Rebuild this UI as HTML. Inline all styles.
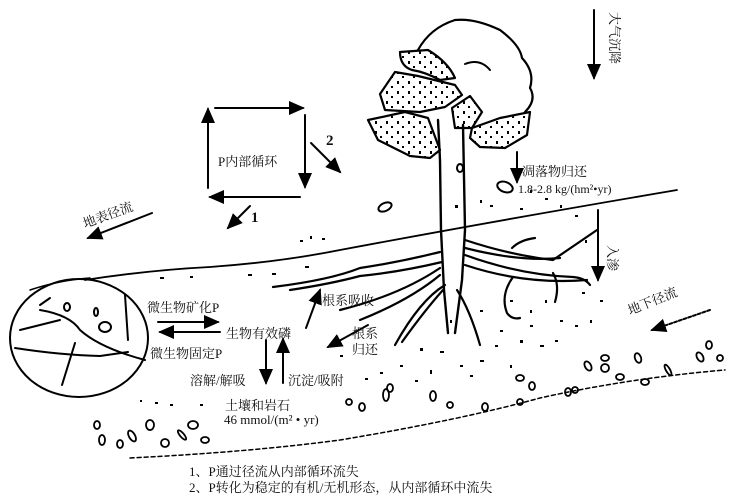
<!DOCTYPE html>
<html><head><meta charset="utf-8"><style>
html,body{margin:0;padding:0;background:#fff;}
svg{display:block}
text{font-family:"Liberation Serif","Noto Serif CJK SC","Noto Sans CJK SC",serif;fill:#111;}
</style></head><body>
<svg width="735" height="500" viewBox="0 0 735 500" xmlns="http://www.w3.org/2000/svg">
<defs>
<marker id="ahb" markerWidth="16" markerHeight="16" refX="14" refY="8" orient="auto" markerUnits="userSpaceOnUse" viewBox="0 0 16 16"><path d="M0,1 L16,8 L0,15 z" fill="#000"/></marker>
<pattern id="dots" width="11" height="10" patternUnits="userSpaceOnUse"><rect x="1" y="1" width="2" height="3" fill="#000"/><rect x="6" y="6" width="2" height="2" fill="#000"/></pattern>
</defs>
<g fill="none" stroke="#000" stroke-width="2" stroke-linecap="round" stroke-linejoin="round">
<line x1="208" y1="188" x2="208" y2="109" marker-end="url(#ahb)"/>
<line x1="215" y1="108" x2="303" y2="108" marker-end="url(#ahb)"/>
<line x1="305" y1="115" x2="305" y2="187" marker-end="url(#ahb)"/>
<line x1="300" y1="197" x2="210" y2="197" marker-end="url(#ahb)"/>
<line x1="311" y1="143" x2="340" y2="172" marker-end="url(#ahb)"/>
<line x1="250" y1="206" x2="228" y2="228" marker-end="url(#ahb)"/>
<line x1="152" y1="213" x2="88" y2="238" marker-end="url(#ahb)"/>
<line x1="594" y1="10" x2="594" y2="78" marker-end="url(#ahb)"/>
<line x1="517" y1="152" x2="517" y2="182" marker-end="url(#ahb)"/>
<line x1="598" y1="210" x2="598" y2="280" marker-end="url(#ahb)"/>
<line x1="710" y1="310" x2="652" y2="330" stroke-dasharray="3,2" marker-end="url(#ahb)"/>
<path d="M85 280 Q150 270 210 267 Q280 262 340 250 Q500 220 677 190" stroke-width="1.8"/>
<path d="M30 290 Q60 280 90 278" stroke-width="1.5"/>
<ellipse cx="79" cy="338" rx="69" ry="59"/>
<path d="M40 310 Q70 315 80 330 Q100 348 145 360" />
<path d="M15 348 Q60 355 100 356 L128 352"/>
<path d="M75 343 L62 385"/><path d="M20 330 L60 320"/>
<path d="M125 295 L128 340"/><path d="M50 298 L40 305"/>
<ellipse cx="67" cy="307" rx="3" ry="4"/><ellipse cx="96" cy="312" rx="2" ry="4"/><ellipse cx="105" cy="327" rx="6" ry="5"/>
<path d="M418 50 Q430 28 455 20 Q475 18 500 30 Q520 45 522 58 Q535 72 530 88 Q537 100 525 112" stroke-width="2.2"/>
<path d="M465 64 Q480 58 490 70"/>
<g fill="url(#dots)" stroke-width="2.2">
<path d="M400 52 L428 50 Q448 62 455 78 L440 80 Q425 72 412 70 Q400 66 400 52 z"/>
<path d="M395 72 L418 76 L455 85 L462 95 L445 107 L420 112 L385 110 L380 94 Z"/>
<path d="M368 120 L405 112 L428 118 L440 150 L430 158 L410 156 L378 140 Z"/>
<path d="M452 108 L470 96 L482 112 L472 128 L455 128 Z"/>
<path d="M472 128 L500 118 L530 112 L527 135 L505 148 L480 147 L470 138 Z"/>
</g>
<g stroke-width="2.4">
<path d="M438 120 L440 160 L441 230 L444 290 L448 333"/>
<path d="M463 125 L465 230 L462 280 L455 333"/>
</g>
<ellipse cx="460" cy="168" rx="3" ry="4"/>
<g stroke-width="2.2">
<path d="M440 252 Q400 262 360 268 Q330 280 273 287"/>
<path d="M442 262 Q400 272 360 276 Q330 284 290 290"/>
<path d="M440 268 Q400 295 340 310"/>
<path d="M440 275 Q410 300 360 320"/>
<path d="M445 285 Q420 300 395 345"/>
<path d="M443 290 Q425 310 402 342"/>
<path d="M457 290 Q470 310 480 345"/>
<path d="M465 255 Q520 275 573 277 Q585 278 590 285"/>
<path d="M465 265 Q525 285 587 280"/>
<path d="M465 240 Q510 255 553 260 Q575 245 597 230"/>
<path d="M465 248 Q520 262 560 258"/>
<path d="M513 277 Q500 295 507 313 Q512 320 520 318"/>
<path d="M553 273 Q560 285 555 302"/>
<path d="M512 248 Q520 240 535 238"/>
</g>
<ellipse cx="505" cy="187" rx="8" ry="5" transform="rotate(20 505 187)"/>
<ellipse cx="385" cy="207" rx="7" ry="4" transform="rotate(-25 385 207)"/>
<line x1="158" y1="322" x2="218" y2="322" marker-end="url(#ahb)"/>
<line x1="220" y1="332" x2="160" y2="332" marker-end="url(#ahb)"/>
<line x1="266" y1="340" x2="266" y2="383" marker-end="url(#ahb)"/>
<line x1="283" y1="383" x2="283" y2="339" marker-end="url(#ahb)"/>
<line x1="306" y1="328" x2="320" y2="290" marker-end="url(#ahb)"/>
<line x1="368" y1="325" x2="328" y2="347" marker-end="url(#ahb)"/>
<path d="M130 458 Q250 452 340 440 Q460 420 540 398 Q630 378 725 370" stroke-width="1.5" stroke-dasharray="4,3"/>
</g>
<g fill="none" stroke="#000" stroke-width="1.8">
<ellipse cx="97" cy="425" rx="3" ry="4"/><ellipse cx="102" cy="440" rx="3" ry="5"/><ellipse cx="120" cy="444" rx="3" ry="4"/>
<ellipse cx="132" cy="436" rx="3" ry="6" transform="rotate(-30 132 436)"/><ellipse cx="150" cy="425" rx="4" ry="5"/><ellipse cx="165" cy="443" rx="4" ry="4"/>
<ellipse cx="182" cy="435" rx="2" ry="6" transform="rotate(-40 182 435)"/><ellipse cx="193" cy="425" rx="5" ry="4"/><ellipse cx="205" cy="440" rx="4" ry="3"/>
<ellipse cx="349" cy="402" rx="3" ry="3"/><ellipse cx="362" cy="407" rx="3" ry="4"/><ellipse cx="386" cy="395" rx="3" ry="6"/><ellipse cx="390" cy="388" rx="3" ry="4"/>
<ellipse cx="433" cy="396" rx="3" ry="5"/><ellipse cx="450" cy="405" rx="3" ry="3"/><ellipse cx="485" cy="407" rx="3" ry="4"/><ellipse cx="520" cy="378" rx="4" ry="3"/>
<ellipse cx="532" cy="386" rx="3" ry="4"/><ellipse cx="568" cy="392" rx="3" ry="4"/><ellipse cx="588" cy="366" rx="3" ry="5" transform="rotate(-30 588 366)"/>
<ellipse cx="605" cy="358" rx="4" ry="3"/><ellipse cx="605" cy="368" rx="4" ry="4"/><ellipse cx="620" cy="377" rx="4" ry="3"/><ellipse cx="638" cy="358" rx="3" ry="5" transform="rotate(-20 638 358)"/>
<ellipse cx="645" cy="382" rx="4" ry="3"/><ellipse cx="668" cy="370" rx="2" ry="6" transform="rotate(-30 668 370)"/><ellipse cx="700" cy="357" rx="3" ry="5" transform="rotate(-30 700 357)"/>
<ellipse cx="709" cy="345" rx="3" ry="4"/><ellipse cx="720" cy="358" rx="3" ry="3"/><ellipse cx="575" cy="390" rx="3" ry="3"/><ellipse cx="520" cy="402" rx="3" ry="3"/>
</g>
<g fill="#000">
<rect x="160" y="277" width="4" height="2"/><rect x="190" y="276" width="3" height="2"/><rect x="248" y="274" width="4" height="2"/><rect x="272" y="273" width="4" height="2"/><rect x="305" y="266" width="4" height="2"/>
<rect x="155" y="402" width="3" height="2"/><rect x="170" y="404" width="3" height="2"/><rect x="200" y="404" width="3" height="2"/><rect x="140" y="400" width="2" height="2"/>
<rect x="420" y="348" width="3" height="3"/><rect x="440" y="351" width="4" height="2"/><rect x="460" y="365" width="3" height="2"/><rect x="480" y="360" width="4" height="2"/>
<rect x="500" y="330" width="3" height="2"/><rect x="520" y="340" width="3" height="3"/><rect x="540" y="345" width="4" height="2"/><rect x="560" y="320" width="3" height="2"/>
<rect x="575" y="325" width="3" height="2"/><rect x="555" y="340" width="3" height="2"/><rect x="400" y="365" width="3" height="2"/><rect x="380" y="372" width="3" height="2"/>
<rect x="365" y="378" width="3" height="2"/><rect x="430" y="370" width="2" height="4"/><rect x="470" y="375" width="3" height="2"/><rect x="510" y="365" width="2" height="3"/>
<rect x="450" y="320" width="2" height="3"/><rect x="510" y="300" width="3" height="2"/><rect x="530" y="310" width="2" height="3"/><rect x="582" y="292" width="3" height="2"/>
<rect x="300" y="240" width="3" height="2"/><rect x="310" y="236" width="2" height="3"/><rect x="322" y="238" width="3" height="2"/><rect x="530" y="190" width="2" height="3"/><rect x="545" y="198" width="3" height="2"/>
<rect x="480" y="200" width="2" height="3"/><rect x="490" y="205" width="3" height="2"/><rect x="455" y="205" width="3" height="3"/>
<rect x="520" y="208" width="3" height="2"/><rect x="560" y="205" width="2" height="3"/><rect x="575" y="215" width="3" height="2"/><rect x="585" y="240" width="2" height="3"/>
<rect x="480" y="310" width="3" height="2"/><rect x="495" y="345" width="3" height="2"/><rect x="545" y="300" width="2" height="3"/><rect x="530" y="325" width="3" height="2"/>
<rect x="600" y="300" width="3" height="2"/><rect x="590" y="320" width="2" height="3"/><rect x="340" y="355" width="3" height="2"/><rect x="415" y="380" width="3" height="2"/>
</g>
<g font-size="13">
<text x="218" y="166">P内部循环</text>
<text x="326" y="145" font-weight="bold" font-size="15">2</text>
<text x="251" y="222" font-weight="bold" font-size="15">1</text>
<text x="85" y="228" transform="rotate(-20 85 228)">地表径流</text>
<text x="610" y="12" transform="rotate(90 610 12)">大气沉降</text>
<text x="522" y="176">凋落物归还</text>
<text x="518" y="193" font-size="12">1.8-2.8  kg/(hm²•yr)</text>
<text x="608" y="245" transform="rotate(90 608 245)">入渗</text>
<text x="630" y="315" transform="rotate(-22 630 315)">地下径流</text>
<text x="147" y="312">微生物矿化P</text>
<text x="226" y="338">生物有效磷</text>
<text x="150" y="358">微生物固定P</text>
<text x="190" y="385">溶解/解吸</text>
<text x="288" y="385">沉淀/吸附</text>
<text x="225" y="410">土壤和岩石</text>
<text x="224" y="424">46 mmol/(m² • yr)</text>
<text x="322" y="305">根系吸收</text>
<text x="352" y="338">根系</text>
<text x="352" y="354">归还</text>
<text x="189" y="476">1、P通过径流从内部循环流失</text>
<text x="189" y="492">2、P转化为稳定的有机/无机形态，从内部循环中流失</text>
</g>
</svg>
</body></html>
